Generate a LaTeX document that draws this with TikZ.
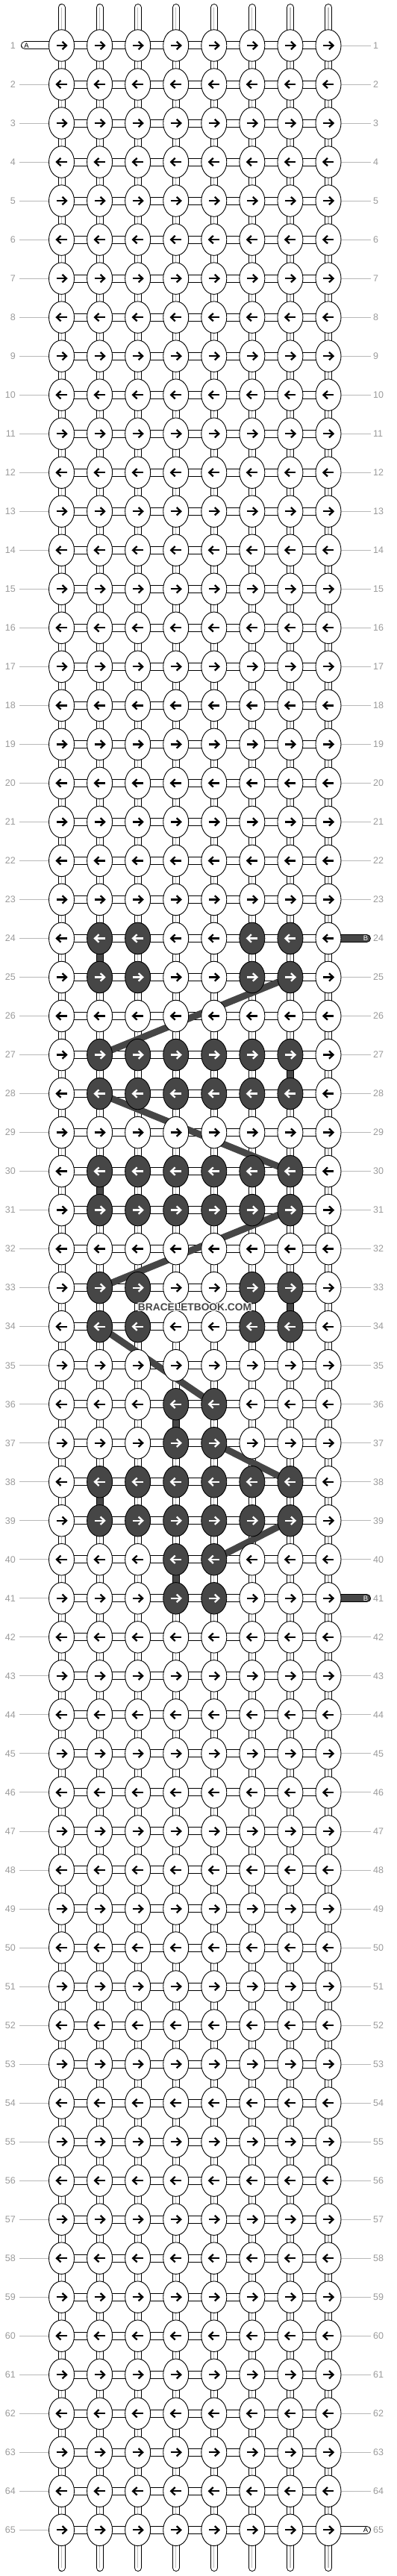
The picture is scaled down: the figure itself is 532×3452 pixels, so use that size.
\documentclass[tikz,border=0pt]{standalone}
\usepackage{fontspec}
\setmainfont{Liberation Sans}
\usetikzlibrary{shapes.geometric}
\definecolor{darkk}{HTML}{464646}
\definecolor{lblgray}{HTML}{9A9A9A}
\definecolor{linegray}{HTML}{B8B8B8}
\definecolor{tubegray}{HTML}{BDBDBD}
\pgfdeclarelayer{bg}\pgfdeclarelayer{mid}
\pgfsetlayers{bg,mid,main}
\tikzset{
  knotbase/.style={ellipse, draw=black, line width=0.9pt, minimum width=34pt, minimum height=42.5pt, inner sep=0pt},
  lightknot/.style={knotbase, fill=white},
  darkknot/.style={knotbase, fill=darkk},
  arrowline/.style={line width=2.3pt},
  hout/.style={line width=11pt, draw=black},
  hin/.style={line width=9pt, draw=white},
  vout/.style={line width=10pt, draw=black},
  vin/.style={line width=8pt, draw=white},
  vmid/.style={line width=1.2pt, draw=tubegray},
  vdark/.style={line width=8pt, draw=darkk},
  pathline/.style={line width=9pt, draw=darkk},
  lblline/.style={line width=0.9pt, draw=linegray},
  rowlbl/.style={text=lblgray, inner sep=0pt, font=\fontsize{12.5}{12.5}\selectfont},
  thrlbl/.style={inner sep=0pt, font=\fontsize{9.5}{9.5}\selectfont},
  wmark/.style={inner sep=0pt, font=\fontsize{13.75}{13.75}\selectfont\bfseries},
}
% dark knots
\foreach \r/\cs in {24/{2,3,6,7},25/{2,3,6,7},27/{2,3,4,5,6,7},28/{2,3,4,5,6,7},30/{2,3,4,5,6,7},31/{2,3,4,5,6,7},33/{2,3,6,7},34/{2,3,6,7},36/{4,5},37/{4,5},38/{2,3,4,5,6,7},39/{2,3,4,5,6,7},40/{4,5},41/{4,5}}{
  \foreach \c in \cs {\expandafter\gdef\csname dk-\r-\c\endcsname{1}}}
% dark vertical connectors (between row r and r+1)
\foreach \r/\c in {24/2,27/7,30/2,33/7,36/4,38/2,40/4}{
  \expandafter\gdef\csname dv-\r-\c\endcsname{1}}
\begin{document}
\begin{tikzpicture}[x=1pt,y=-1pt]
\useasboundingbox (0,0) rectangle (532,3452);
% knots and arrows
\foreach \r in {1,...,65}{
  \foreach \c in {1,...,8}{
    \pgfmathsetmacro\xc{82.5+(\c-1)*51.07}
    \pgfmathsetmacro\yc{61+(\r-1)*52.02}
    \ifcsname dk-\r-\c\endcsname
      \tikzset{cur/.style={darkknot}}\def\acol{white}
    \else
      \tikzset{cur/.style={lightknot}}\def\acol{black}
    \fi
    \node[cur] (k-\r-\c) at (\xc,\yc) {};
    \pgfmathsetmacro\s{ifthenelse(mod(\r,2)==1,1,-1)}
    \pgfmathsetmacro\xa{\xc-7*\s}
    \pgfmathsetmacro\xb{\xc+6*\s}
    \pgfmathsetmacro\xh{\xc+1*\s}
    \pgfmathsetmacro\xt{\xc+6.5*\s}
    \draw[arrowline, draw=\acol] (\xa,\yc) -- (\xb,\yc);
    \draw[arrowline, draw=\acol] (\xh,\yc-5.2) -- (\xt,\yc) -- (\xh,\yc+5.2);
  }
}
% row labels
\foreach \r in {1,...,65}{
  \pgfmathsetmacro\yc{61+(\r-1)*52.02}
  \node[rowlbl, anchor=east] (ll-\r) at (21,\yc) {\r};
  \node[rowlbl, anchor=west] (rl-\r) at (500,\yc) {\r};
}
\begin{pgfonlayer}{bg}
  % label lines
  \foreach \r in {2,...,65}{
    \pgfmathsetmacro\yc{61+(\r-1)*52.02}
    \coordinate (lc-\r) at (26,\yc);
    \draw[lblline] (lc-\r) -- (k-\r-1.west);
  }
  \foreach \r in {1,...,23,25,26,...,40,42,43,...,64}{
    \pgfmathsetmacro\yc{61+(\r-1)*52.02}
    \coordinate (rc-\r) at (497,\yc);
    \draw[lblline] (k-\r-8.east) -- (rc-\r);
  }
  % horizontal connectors
  \foreach \r in {1,...,65}{
    \foreach \c [count=\n from 2] in {1,...,7}{
      \draw[hout] (k-\r-\c.center) -- (k-\r-\n.center);
      \draw[hin] (k-\r-\c.center) -- (k-\r-\n.center);
    }
  }
  % vertical connectors
  \foreach \r [count=\n from 2] in {1,...,64}{
    \foreach \c in {1,...,8}{
      \draw[vout] (k-\r-\c.center) -- (k-\n-\c.center);
      \ifcsname dv-\r-\c\endcsname
        \draw[vdark] (k-\r-\c.center) -- (k-\n-\c.center);
      \else
        \draw[vin] (k-\r-\c.center) -- (k-\n-\c.center);
        \draw[vmid] (k-\r-\c.center) -- (k-\n-\c.center);
      \fi
    }
  }
  % top and bottom threads
  \foreach \c in {1,...,8}{
    \pgfmathsetmacro\xc{82.5+(\c-1)*51.07}
    \coordinate (tt-\c) at (\xc,10);
    \coordinate (tb-\c) at (\xc,3441);
    \draw[vout, line cap=round] (tt-\c) -- (k-1-\c.center);
    \draw[vin, line cap=round] (tt-\c) -- (k-1-\c.center);
    \draw[vmid] (tt-\c) -- (k-1-\c.center);
    \draw[vout, line cap=round] (tb-\c) -- (k-65-\c.center);
    \draw[vin, line cap=round] (tb-\c) -- (k-65-\c.center);
    \draw[vmid] (tb-\c) -- (k-65-\c.center);
  }
  % A thread left, row 1
  \coordinate (aL) at (33.5,61);
  \draw[hout, line cap=round] (aL) -- (k-1-1.center);
  \draw[hin, line cap=round] (aL) -- (k-1-1.center);
  % A thread right, row 65
  \coordinate (aR) at (491.5,{61+64*52.02});
  \draw[hout, line cap=round] (k-65-8.center) -- (aR);
  \draw[hin, line cap=round] (k-65-8.center) -- (aR);
  % B threads right, rows 24 and 41
  \coordinate (bR24) at (491.5,{61+23*52.02});
  \coordinate (bR41) at (491.5,{61+40*52.02});
  \draw[hout, line cap=round] (k-24-8.center) -- (bR24);
  \draw[hin, draw=darkk, line cap=round] (k-24-8.center) -- (bR24);
  \draw[hout, line cap=round] (k-41-8.center) -- (bR41);
  \draw[hin, draw=darkk, line cap=round] (k-41-8.center) -- (bR41);
\end{pgfonlayer}
% thread labels
\node[thrlbl, text=black] (aLt) at (35.5,61) {A};
\node[thrlbl, text=black] (aRt) at (490,{61+64*52.02}) {A};
\node[thrlbl, text=white] (bRt24) at (490,{61+23*52.02}) {B};
\node[thrlbl, text=white] (bRt41) at (490,{61+40*52.02}) {B};
% paths of the dark thread behind the knots
\begin{pgfonlayer}{mid}
  \draw[pathline] (k-25-7.center) -- (k-27-2.center);
  \draw[pathline] (k-28-2.center) -- (k-30-7.center);
  \draw[pathline] (k-31-7.center) -- (k-33-2.center);
  \draw[pathline] (k-34-2.center) -- (k-36-5.center);
  \draw[pathline] (k-37-5.center) -- (k-38-7.center);
  \draw[pathline] (k-39-7.center) -- (k-40-5.center);
\end{pgfonlayer}
% watermark
\foreach \dx/\dy [count=\i] in {1/0,-1/0,0/1,0/-1,1/1,-1/1,1/-1,-1/-1}{
  \node[wmark, text=white] (wm-\i) at (261+\dx,1752+\dy) {BRACELETBOOK.COM};
}
\node[wmark, text=darkk] (wm) at (261,1752) {BRACELETBOOK.COM};
\end{tikzpicture}
\end{document}
